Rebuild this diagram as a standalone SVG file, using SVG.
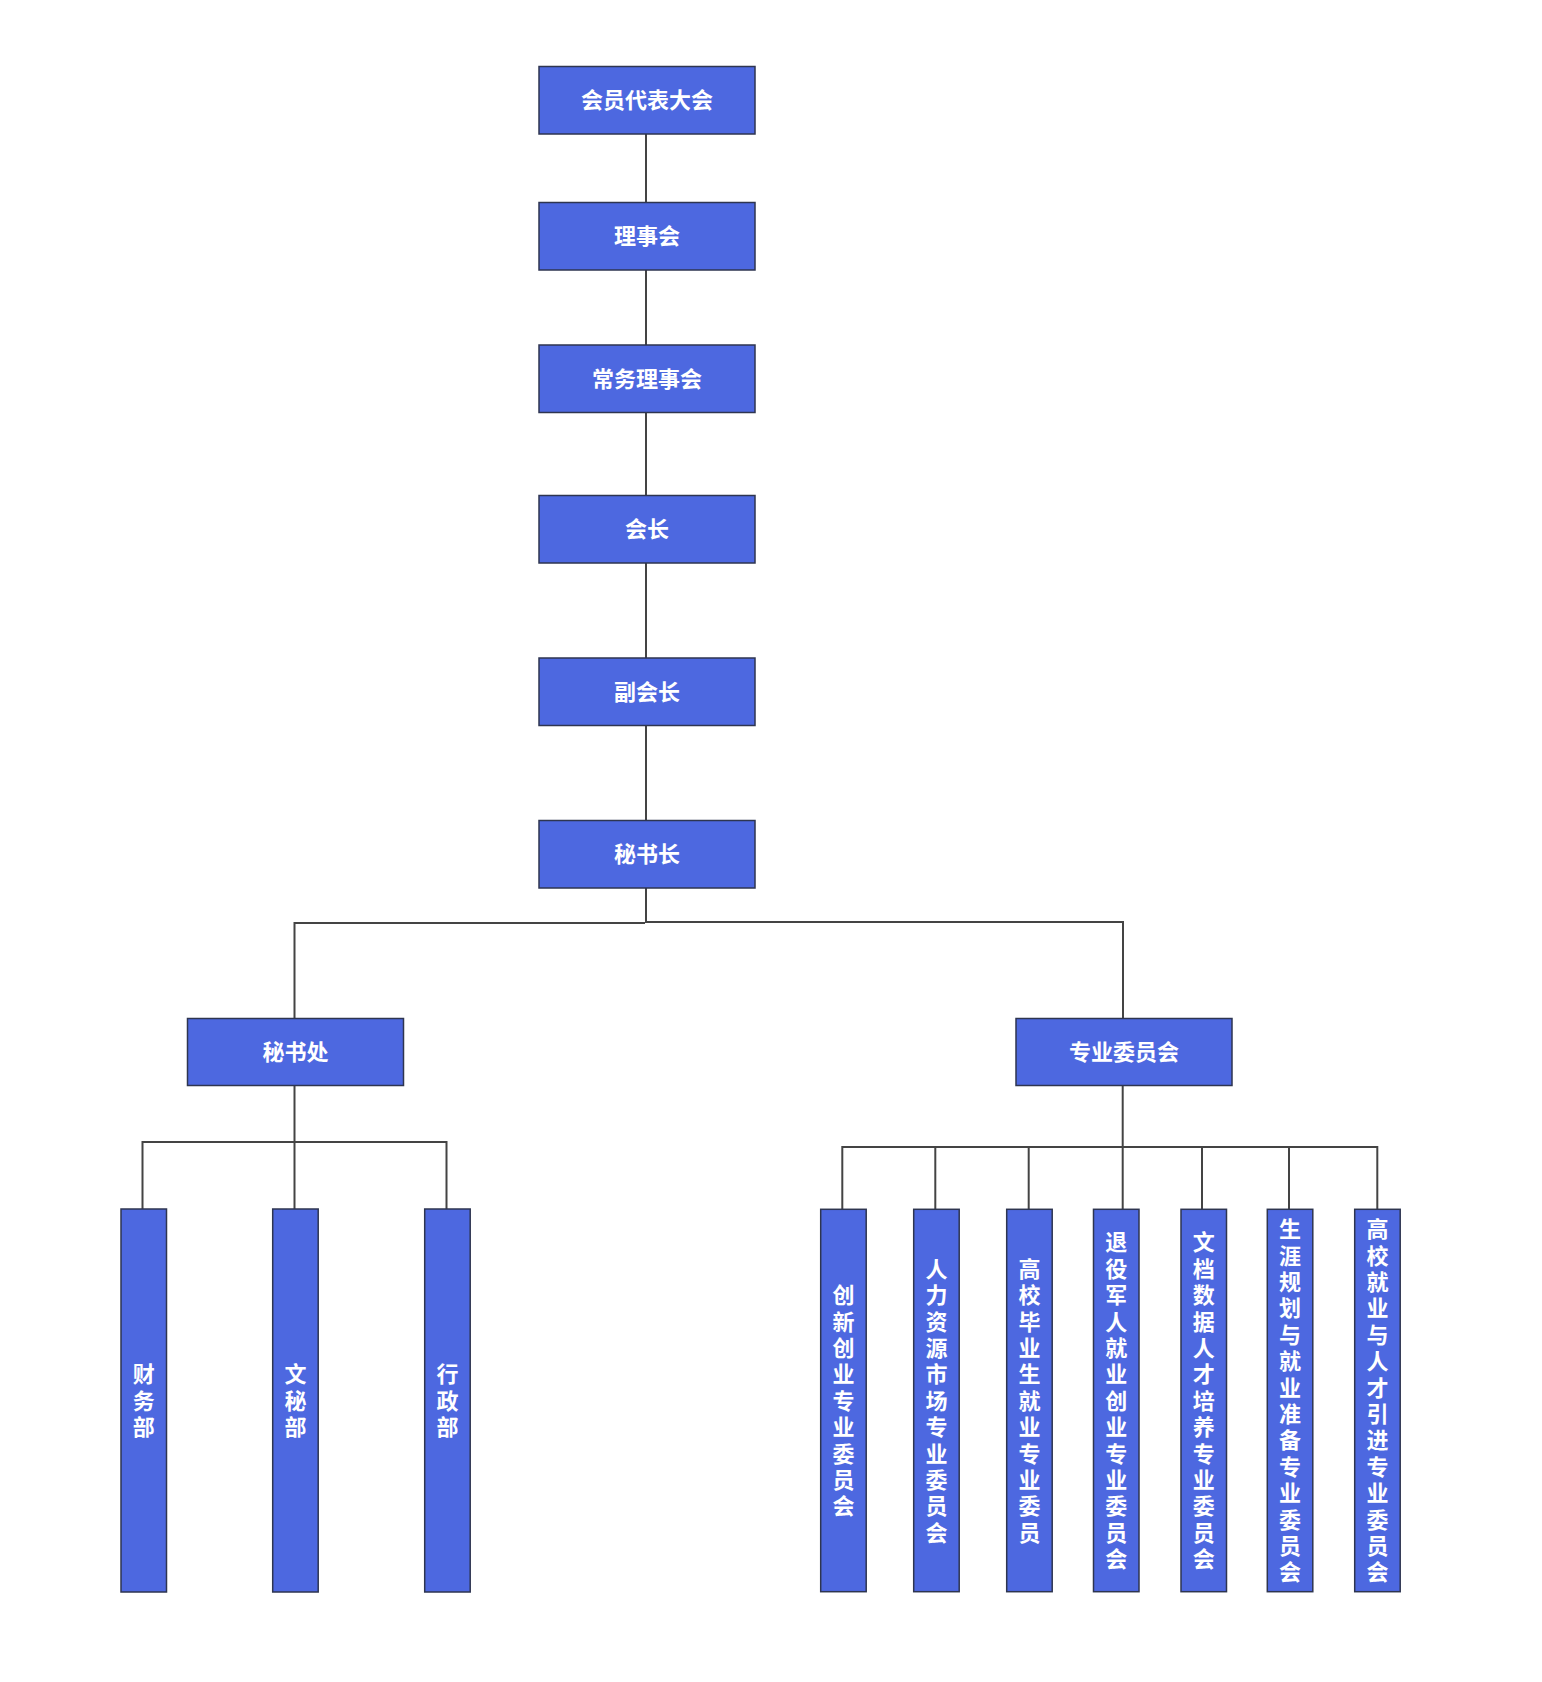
<svg xmlns="http://www.w3.org/2000/svg" width="1542" height="1682" viewBox="0 0 1542 1682">
<style>
.box{fill:#4D68E0;stroke:#2E3550;stroke-width:1.5}
.t{font-family:"Noto Sans CJK SC","Noto Sans",sans-serif;font-weight:bold;font-size:22px;fill:#FFFFFF;text-anchor:middle}
.v{writing-mode:vertical-rl;letter-spacing:4.4px}
.c{fill:none;stroke:#444444;stroke-width:2}
</style>
<rect width="1542" height="1682" fill="#FFFFFF"/>
<g id="connectors">
<path class="c" d="M646 134V202.5"/>
<path class="c" d="M646 270V345"/>
<path class="c" d="M646 412.5V495.5"/>
<path class="c" d="M646 563V658"/>
<path class="c" d="M646 725.5V820.5"/>
<path class="c" d="M646 888V922H1123V1018.5"/>
<path class="c" d="M645 923H294.5V1018.5"/>
<path class="c" d="M294.5 1085.5V1209"/>
<path class="c" d="M142.5 1209V1142H446.5V1209"/>
<path class="c" d="M1122.7 1085.5V1209"/>
<path class="c" d="M842.3 1209V1147H1377.3V1209"/>
<path class="c" d="M935.3 1147V1209"/>
<path class="c" d="M1028.7 1147V1209"/>
<path class="c" d="M1202 1147V1209"/>
<path class="c" d="M1289 1147V1209"/>
</g>
<g id="n1"><rect class="box" x="539" y="66.5" width="216" height="67.5"/><text class="t" x="647" y="108">会员代表大会</text></g>
<g id="n2"><rect class="box" x="539" y="202.5" width="216" height="67.5"/><text class="t" x="647" y="244">理事会</text></g>
<g id="n3"><rect class="box" x="539" y="345" width="216" height="67.5"/><text class="t" x="647" y="386.5">常务理事会</text></g>
<g id="n4"><rect class="box" x="539" y="495.5" width="216" height="67.5"/><text class="t" x="647" y="537">会长</text></g>
<g id="n5"><rect class="box" x="539" y="658" width="216" height="67.5"/><text class="t" x="647" y="699.5">副会长</text></g>
<g id="n6"><rect class="box" x="539" y="820.5" width="216" height="67.5"/><text class="t" x="647" y="862">秘书长</text></g>
<g id="n7"><rect class="box" x="187.5" y="1018.5" width="216" height="67"/><text class="t" x="295.5" y="1060">秘书处</text></g>
<g id="n8"><rect class="box" x="1016" y="1018.5" width="216" height="67"/><text class="t" x="1124" y="1060">专业委员会</text></g>
<g id="n9"><rect class="box" x="121" y="1209" width="45.5" height="383"/><text class="t v" x="143.8" y="1402.7">财务部</text></g>
<g id="n10"><rect class="box" x="272.7" y="1209" width="45.5" height="383"/><text class="t v" x="295.5" y="1402.7">文秘部</text></g>
<g id="n11"><rect class="box" x="424.7" y="1209" width="45.5" height="383"/><text class="t v" x="447.4" y="1402.7">行政部</text></g>
<g id="n12"><rect class="box" x="820.7" y="1209.3" width="45.5" height="382.4"/><text class="t v" x="843.5" y="1402.7">创新创业专业委员会</text></g>
<g id="n13"><rect class="box" x="913.7" y="1209.3" width="45.5" height="382.4"/><text class="t v" x="936.5" y="1402.7">人力资源市场专业委员会</text></g>
<g id="n14"><rect class="box" x="1006.7" y="1209.3" width="45.5" height="382.4"/><text class="t v" x="1029.5" y="1402.7">高校毕业生就业专业委员</text></g>
<g id="n15"><rect class="box" x="1093.5" y="1209.3" width="45.5" height="382.4"/><text class="t v" x="1116.3" y="1402.7">退役军人就业创业专业委员会</text></g>
<g id="n16"><rect class="box" x="1181" y="1209.3" width="45.5" height="382.4"/><text class="t v" x="1203.8" y="1402.7">文档数据人才培养专业委员会</text></g>
<g id="n17"><rect class="box" x="1267.3" y="1209.3" width="45.5" height="382.4"/><text class="t v" x="1290.1" y="1402.7">生涯规划与就业准备专业委员会</text></g>
<g id="n18"><rect class="box" x="1354.7" y="1209.3" width="45.5" height="382.4"/><text class="t v" x="1377.5" y="1402.7">高校就业与人才引进专业委员会</text></g>
</svg>
